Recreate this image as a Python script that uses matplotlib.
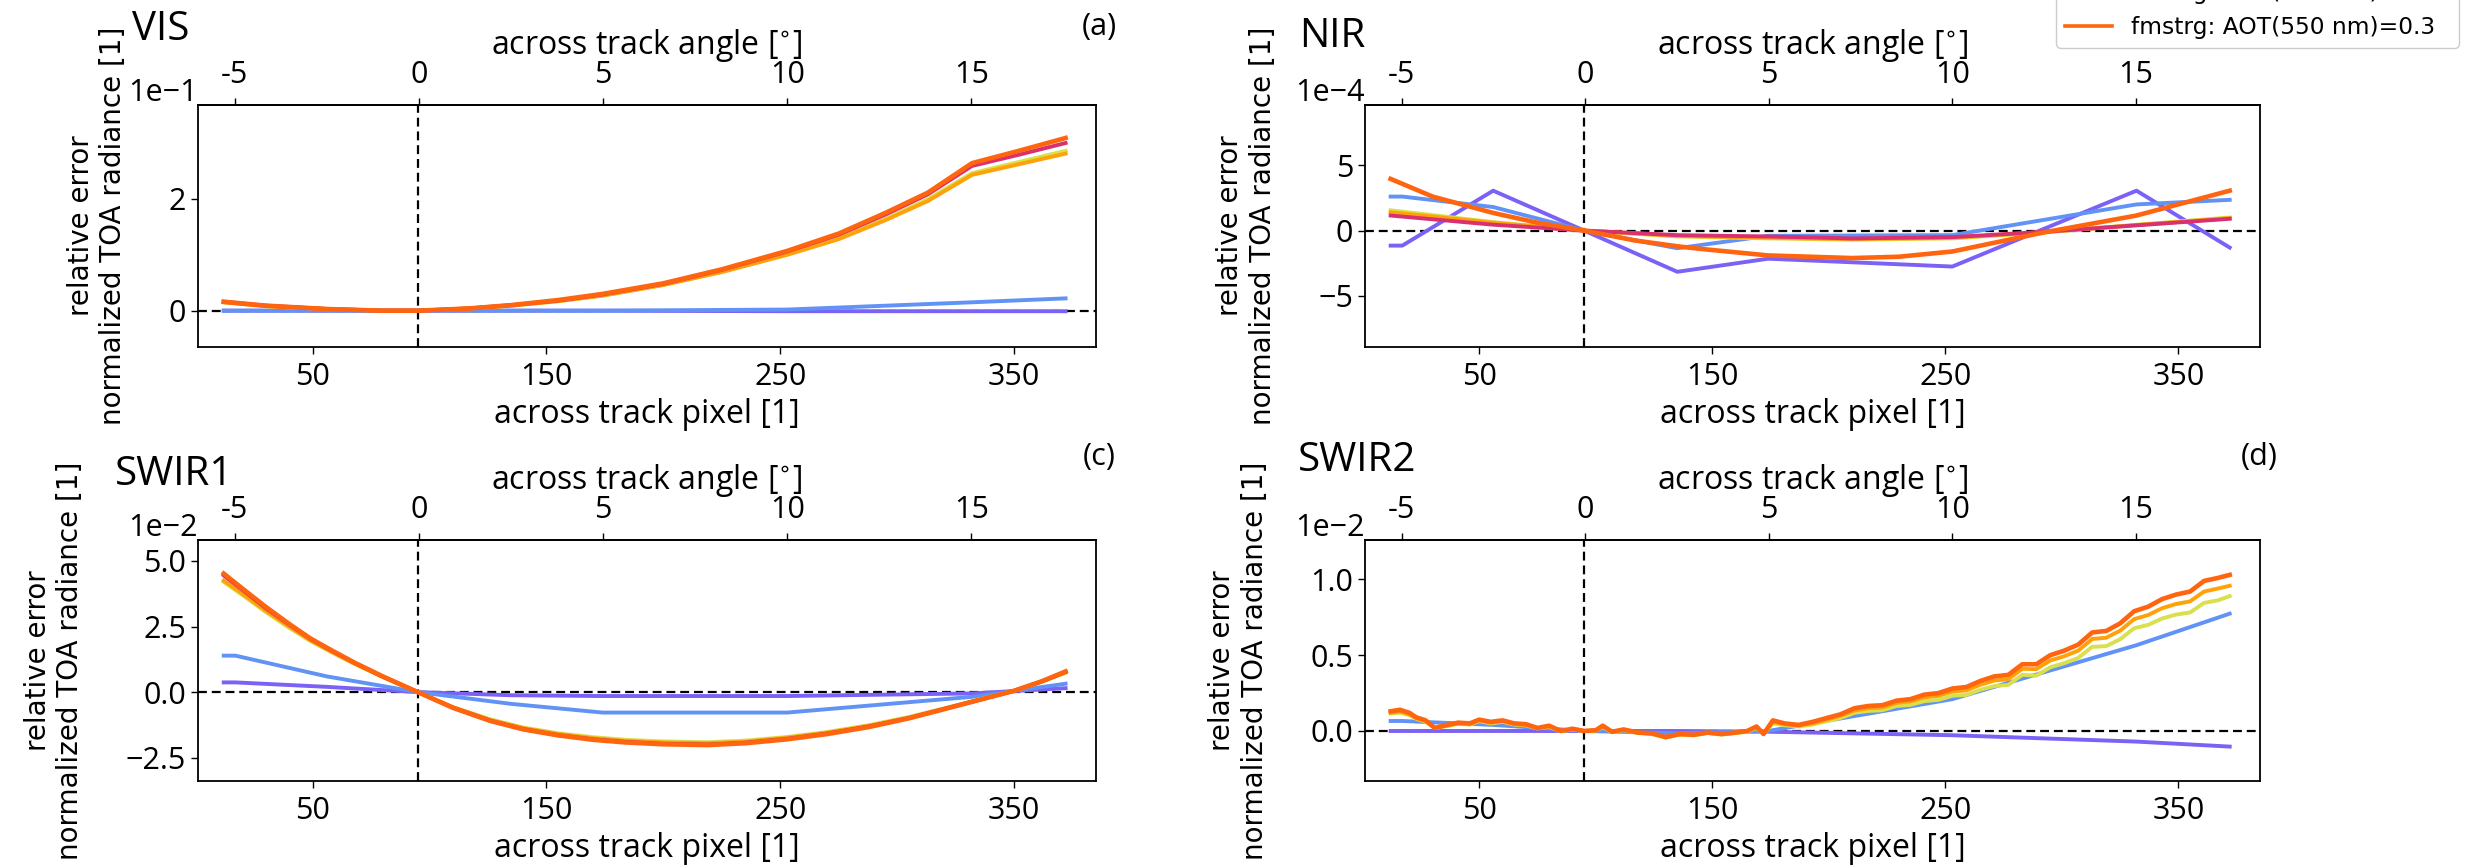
import numpy as np
import matplotlib
matplotlib.use('Agg')
import matplotlib.pyplot as plt
from matplotlib.lines import Line2D

plt.rcParams['font.family'] = ['Open Sans', 'DejaVu Sans']
plt.rcParams['axes.formatter.use_mathtext'] = False

# ---- data -------------------------------------------------------------
# series order: purple, blue, yellow, gold, crimson, orange-red
colors = ['#7b61f5', '#6192f5', '#d9e04c', '#ffa20a', '#d9306f', '#ff640f']
labels = ['no aerosol',
          'fmstrg: AOT(550 nm)=0.05',
          'fmstrg: AOT(550 nm)=0.1',
          'fmstrg: AOT(550 nm)=0.15',
          'fmstrg: AOT(550 nm)=0.2',
          'fmstrg: AOT(550 nm)=0.3']

knots = [12, 17, 56, 95, 135, 174, 253, 332, 372]  # across track pixel

# (a) VIS, relative error
vis_x = [12, 30, 56, 80, 95, 117, 135, 155, 174, 200, 225, 253, 275, 295, 313, 332, 352, 372]
vis_purple = [0.0, 0.0, 0.0, 0.0, 0.0, 0.0, -0.001, -0.001, -0.001]
vis_blue = [0.0, 0.0, 0.0, 0.0, 0.0, 0.0, 0.002, 0.015, 0.022]
vis_yellow = [0.015, 0.008, 0.003, 0.0, 0.0, 0.004, 0.009, 0.017, 0.027, 0.046, 0.070, 0.101,
              0.130, 0.164, 0.199, 0.246, 0.266, 0.286]
vis_gold = [0.015, 0.008, 0.003, 0.0, 0.0, 0.004, 0.009, 0.017, 0.027, 0.046, 0.069, 0.100,
            0.128, 0.162, 0.196, 0.243, 0.262, 0.281]
vis_crimson = [0.016, 0.009, 0.003, 0.0, 0.0, 0.004, 0.010, 0.018, 0.029, 0.048, 0.073, 0.106,
               0.136, 0.172, 0.208, 0.259, 0.279, 0.300]
vis_orange = [0.016, 0.009, 0.003, 0.0, 0.0, 0.004, 0.010, 0.019, 0.030, 0.049, 0.074, 0.107,
              0.138, 0.175, 0.211, 0.264, 0.286, 0.309]

# (b) NIR, relative error in 1e-4
nir_x = [12, 56, 95, 135, 174, 210, 253, 292, 332, 372]
nir_xo = [12, 30, 56, 75, 95, 117, 135, 145, 174, 210, 230, 253, 292, 332, 372]
nir_purple = [-1.15, -1.15, 3.05, 0.0, -3.15, -2.15, -2.75, 3.05, -1.3]
nir_blue = [2.6, 2.6, 1.8, 0.0, -1.35, -0.4, -0.35, 2.0, 2.35]
nir_yellow = [1.55, 0.65, 0.0, -0.45, -0.6, -0.7, -0.6, -0.15, 0.45, 1.0]
nir_gold = [1.4, 0.6, 0.0, -0.4, -0.55, -0.65, -0.55, -0.12, 0.42, 0.95]
nir_crimson = [1.15, 0.45, 0.0, -0.35, -0.45, -0.6, -0.5, -0.1, 0.4, 0.9]
nir_orange = [3.95, 2.6, 1.35, 0.6, 0.0, -0.76, -1.2, -1.4, -1.9, -2.1, -2.0, -1.6, -0.15, 1.15, 3.05]

# (c) SWIR1, relative error in 1e-2
sw1_x = [12, 20, 30, 40, 49, 58, 68, 80, 95, 110, 126, 140, 155, 170, 184, 200, 219, 235,
         253, 270, 288, 305, 321, 335, 350, 362, 372]
sw1_purple = [0.37, 0.37, 0.2, 0.0, -0.12, -0.15, -0.15, -0.05, 0.15]
sw1_blue = [1.39, 1.39, 0.6, 0.0, -0.45, -0.78, -0.78, -0.18, 0.32]
sw1_yellow = [4.2, 3.7, 3.05, 2.45, 1.95, 1.52, 1.07, 0.57, 0.0, -0.57, -1.04, -1.35, -1.57,
              -1.72, -1.82, -1.88, -1.91, -1.85, -1.71, -1.52, -1.26, -0.95, -0.6, -0.28,
              0.05, 0.4, 0.74]
sw1_gold = [4.25, 3.75, 3.1, 2.5, 1.98, 1.55, 1.09, 0.58, 0.0, -0.58, -1.06, -1.37, -1.6,
            -1.76, -1.86, -1.92, -1.95, -1.89, -1.74, -1.55, -1.28, -0.97, -0.61, -0.29,
            0.05, 0.41, 0.75]
sw1_crimson = [4.45, 3.9, 3.2, 2.57, 2.03, 1.58, 1.11, 0.59, 0.0, -0.59, -1.09, -1.41, -1.64,
               -1.8, -1.9, -1.97, -2.0, -1.93, -1.78, -1.58, -1.31, -0.99, -0.62, -0.3,
               0.05, 0.41, 0.77]
sw1_orange = [4.52, 3.95, 3.25, 2.6, 2.05, 1.6, 1.12, 0.6, 0.0, -0.6, -1.1, -1.42, -1.65,
              -1.82, -1.92, -1.99, -2.02, -1.95, -1.8, -1.6, -1.33, -1.0, -0.63, -0.3,
              0.05, 0.42, 0.79]

# (d) SWIR2, relative error in 1e-2
sw2_x = [12, 16, 20, 23, 27, 31, 36, 41, 46, 50, 55, 60, 65, 70, 75, 80, 85, 90, 95, 100,
         103, 107, 112, 118, 124, 130, 136, 142, 148, 154, 160, 165, 169, 172, 176, 181, 187,
         193, 199, 205, 211, 217, 223, 229, 235, 241, 247, 253, 259, 265, 271, 277, 283, 289,
         295, 301, 307, 313, 319, 325, 331, 337, 343, 349, 355, 361, 367, 372]
sw2_purple = [0.0, 0.0, 0.0, 0.0, 0.0, -0.005, -0.028, -0.07, -0.103]
sw2_blue = [0.066, 0.066, 0.04, 0.0, -0.015, 0.0, 0.21, 0.566, 0.774]
sw2_yellow = [0.115, 0.12, 0.105, 0.08, 0.06, 0.018, 0.032, 0.047, 0.042, 0.065, 0.05, 0.06,
              0.042, 0.037, 0.016, 0.027, -0.002, 0.01, 0.0, 0.002, 0.025, -0.008, 0.005,
              -0.014, -0.02, -0.044, -0.024, -0.029, -0.014, -0.024, -0.014, -0.005, 0.02,
              -0.02, 0.05, 0.038, 0.03, 0.042, 0.064, 0.086, 0.12, 0.132, 0.137, 0.165, 0.172,
              0.197, 0.205, 0.232, 0.238, 0.272, 0.296, 0.304, 0.37, 0.365, 0.42, 0.447, 0.482,
              0.555, 0.56, 0.605, 0.678, 0.7, 0.742, 0.768, 0.782, 0.845, 0.862, 0.89]
sw2_gold = [0.12, 0.13, 0.11, 0.085, 0.065, 0.02, 0.035, 0.05, 0.045, 0.07, 0.055, 0.065,
            0.045, 0.04, 0.018, 0.03, 0.0, 0.012, 0.0, 0.004, 0.03, -0.006, 0.008, -0.012,
            -0.018, -0.042, -0.022, -0.027, -0.012, -0.022, -0.012, -0.002, 0.025, -0.02,
            0.06, 0.045, 0.035, 0.05, 0.075, 0.1, 0.135, 0.15, 0.155, 0.185, 0.195, 0.222,
            0.232, 0.26, 0.268, 0.305, 0.333, 0.342, 0.41, 0.408, 0.465, 0.493, 0.53, 0.607,
            0.615, 0.662, 0.738, 0.765, 0.81, 0.838, 0.855, 0.92, 0.94, 0.958]
sw2_orange = [0.13, 0.14, 0.12, 0.09, 0.07, 0.02, 0.04, 0.055, 0.05, 0.075, 0.06, 0.07,
              0.05, 0.045, 0.02, 0.035, 0.0, 0.015, 0.0, 0.005, 0.035, -0.005, 0.01, -0.01,
              -0.015, -0.04, -0.02, -0.025, -0.01, -0.02, -0.01, 0.0, 0.03, -0.02, 0.07,
              0.05, 0.04, 0.06, 0.085, 0.11, 0.15, 0.165, 0.17, 0.2, 0.21, 0.24, 0.25, 0.28,
              0.29, 0.33, 0.36, 0.37, 0.44, 0.44, 0.5, 0.53, 0.57, 0.65, 0.66, 0.71, 0.79,
              0.82, 0.87, 0.9, 0.92, 0.99, 1.01, 1.03]

angle_ticks = [-5, 0, 5, 10, 15]
angle_labels = ['-5', '0', '5', '10', '15']
pixel_ticks = [50, 150, 250, 350]

# ---- figure -----------------------------------------------------------
W, H = 2466, 868
fig = plt.figure(figsize=(W / 100, H / 100), dpi=100)

TICK = 22
LAB = 23


def add_axes(left, right, top, bottom):
    return fig.add_axes([left / W, 1 - bottom / H, (right - left) / W, (bottom - top) / H])


def pix2ang(p):
    return (np.asarray(p) - 95.5) / 15.75


def ang2pix(a):
    return np.asarray(a) * 15.75 + 95.5


def panel(ax, lines, scale, yticks, ylim):
    ax.axhline(0, color='k', lw=1.6, ls=(0, (4, 2.2)), zorder=1)
    ax.axvline(95, color='k', lw=1.6, ls=(0, (4, 2.2)), zorder=1)
    for (x, y), c in zip(lines, colors):
        if y is None:
            continue
        lw = 3.3 if c == colors[-1] else 2.8
        ax.plot(x, np.asarray(y) * scale, color=c, lw=lw, zorder=2)
    ax.set_xlim(1, 385)
    ax.set_ylim(ylim[0] * scale, ylim[1] * scale)
    ax.set_xticks(pixel_ticks)
    ax.set_yticks(np.asarray(yticks) * scale)
    ax.ticklabel_format(axis='y', style='sci', scilimits=(0, 0))
    ax.tick_params(labelsize=TICK, length=5, width=1)
    ax.tick_params(axis='x', pad=6)
    ax.yaxis.get_offset_text().set_fontsize(TICK)
    ax.yaxis.get_offset_text().set_horizontalalignment('right')
    for s in ax.spines.values():
        s.set_linewidth(1.3)
    ax.set_xlabel('across track pixel [1]', fontsize=LAB, labelpad=4)
    ax.set_ylabel('relative error\nnormalized TOA radiance [1]', fontsize=20,
                  family='DejaVu Sans', labelpad=30)
    sec = ax.secondary_xaxis('top', functions=(pix2ang, ang2pix))
    sec.set_xticks(angle_ticks)
    sec.set_xticklabels(angle_labels)
    sec.tick_params(labelsize=TICK, length=5, width=1, pad=6)
    sec.spines['top'].set_linewidth(1.3)
    sec.set_xlabel(r'across track angle [$^{\circ}$]', fontsize=LAB, labelpad=4)


ax_a = add_axes(198, 1096, 105, 347)
panel(ax_a, [(knots, vis_purple), (knots, vis_blue), (vis_x, vis_yellow),
             (vis_x, vis_gold), (vis_x, vis_crimson), (vis_x, vis_orange)],
      1.0, [0, 0.2], (-0.065, 0.368))

ax_b = add_axes(1365, 2260, 105, 347)
panel(ax_b, [(knots, nir_purple), (knots, nir_blue), (nir_x, nir_yellow),
             (nir_x, nir_gold), (nir_x, nir_crimson), (nir_xo, nir_orange)],
      1e-4, [-5, 0, 5], (-8.9, 9.6))

ax_c = add_axes(198, 1096, 540, 781)
panel(ax_c, [(knots, sw1_purple), (knots, sw1_blue), (sw1_x, sw1_yellow),
             (sw1_x, sw1_gold), (sw1_x, sw1_crimson), (sw1_x, sw1_orange)],
      1e-2, [-2.5, 0, 2.5, 5.0], (-3.39, 5.8))

ax_d = add_axes(1365, 2260, 540, 781)
panel(ax_d, [(knots, sw2_purple), (knots, sw2_blue), (sw2_x, sw2_yellow),
             (sw2_x, sw2_gold), (None, None), (sw2_x, sw2_orange)],
      1e-2, [0, 0.5, 1.0], (-0.33, 1.26))

# band names and panel letters
for txt, x, y in [('VIS', 132, 30), ('NIR', 1299, 37), ('SWIR1', 115, 475), ('SWIR2', 1298, 461)]:
    fig.text(x / W, 1 - y / H, txt, fontsize=29, ha='left', va='center')
for txt, x, y in [('(a)', 1099, 27), ('(c)', 1099, 457), ('(d)', 2259, 457)]:
    fig.text(x / W, 1 - y / H, txt, fontsize=22, ha='center', va='center')

handles = [Line2D([], [], color=c, lw=2.6) for c in colors]
fig.legend(handles, labels, loc='lower right', bbox_to_anchor=(2459 / W, 1 - 48 / H),
           borderaxespad=0, prop={'family': 'DejaVu Sans', 'size': 16.8}, framealpha=1)

fig.savefig('out.png', dpi=100)
